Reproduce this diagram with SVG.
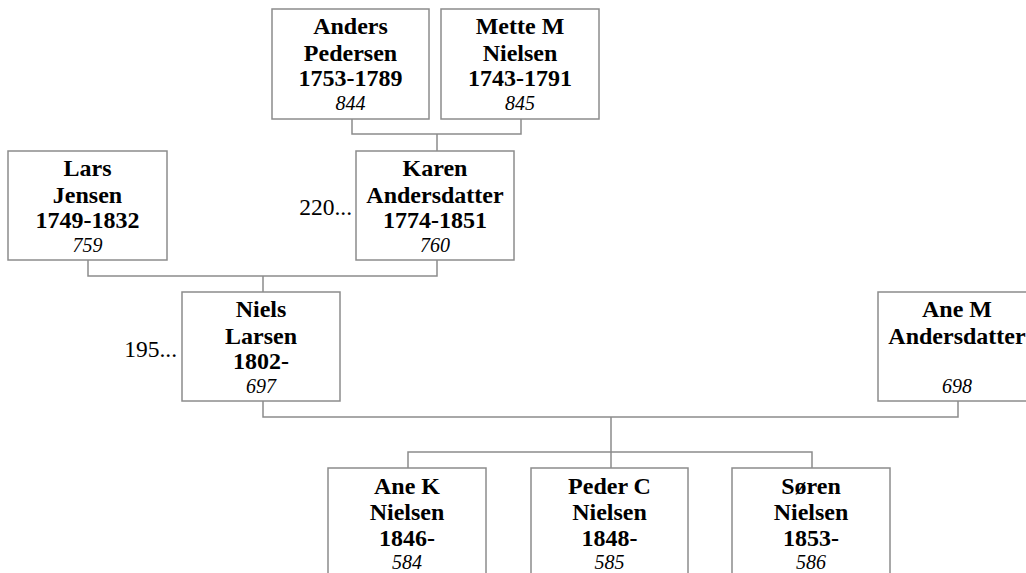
<svg xmlns="http://www.w3.org/2000/svg" width="1026" height="573" viewBox="0 0 1026 573">
<style>
.box{fill:#fff;stroke:#8c8c8c;stroke-width:1.5}
text{font-family:'Liberation Serif','Times New Roman',serif;fill:#000}
.b{font-weight:bold;font-size:24px;text-anchor:middle}
.i{font-style:italic;font-size:20px;text-anchor:middle}
.r{font-size:23.5px;text-anchor:end}
.c{fill:none;stroke:#8c8c8c;stroke-width:1.5}
</style>
<rect width="1026" height="573" fill="#fff"/>
<g id="connectors">
<path class="c" d="M352,119 V134 H521 V119 M437,134 V151"/>
<path class="c" d="M88,260 V276 H437 V260 M263,276 V292"/>
<path class="c" d="M263,401 V417 H958 V401 M611,417 V452"/>
<path class="c" d="M408,468 V452 H812 V468 M611,452 V468"/>
</g>
<g id="anders">
<rect class="box" x="272" y="9" width="157" height="110"/>
<text class="b" x="350.5" y="34">Anders</text>
<text class="b" x="350.5" y="61">Pedersen</text>
<text class="b" x="350.5" y="86">1753-1789</text>
<text class="i" x="350.5" y="110">844</text>
</g>
<g id="mette">
<rect class="box" x="441" y="9" width="158" height="110"/>
<text class="b" x="520" y="34">Mette M</text>
<text class="b" x="520" y="61">Nielsen</text>
<text class="b" x="520" y="86">1743-1791</text>
<text class="i" x="520" y="110">845</text>
</g>
<g id="lars">
<rect class="box" x="8" y="151" width="159" height="109"/>
<text class="b" x="87.5" y="176">Lars</text>
<text class="b" x="87.5" y="203">Jensen</text>
<text class="b" x="87.5" y="228">1749-1832</text>
<text class="i" x="87.5" y="252">759</text>
</g>
<g id="karen">
<text class="r" x="352" y="215">220...</text>
<rect class="box" x="356" y="151" width="158" height="109"/>
<text class="b" x="435" y="176">Karen</text>
<text class="b" x="435" y="203">Andersdatter</text>
<text class="b" x="435" y="228">1774-1851</text>
<text class="i" x="435" y="252">760</text>
</g>
<g id="niels">
<text class="r" x="177" y="357">195...</text>
<rect class="box" x="182" y="292" width="158" height="109"/>
<text class="b" x="261" y="317">Niels</text>
<text class="b" x="261" y="344">Larsen</text>
<text class="b" x="261" y="369">1802-</text>
<text class="i" x="261" y="393">697</text>
</g>
<g id="anem">
<rect class="box" x="878" y="292" width="158" height="109"/>
<text class="b" x="957" y="317">Ane M</text>
<text class="b" x="957" y="344">Andersdatter</text>
<text class="i" x="957" y="393">698</text>
</g>
<g id="anek">
<rect class="box" x="328" y="468" width="158" height="109"/>
<text class="b" x="407" y="494">Ane K</text>
<text class="b" x="407" y="520">Nielsen</text>
<text class="b" x="407" y="546">1846-</text>
<text class="i" x="407" y="569">584</text>
</g>
<g id="peder">
<rect class="box" x="531" y="468" width="157" height="109"/>
<text class="b" x="609.5" y="494">Peder C</text>
<text class="b" x="609.5" y="520">Nielsen</text>
<text class="b" x="609.5" y="546">1848-</text>
<text class="i" x="609.5" y="569">585</text>
</g>
<g id="soren">
<rect class="box" x="732" y="468" width="158" height="109"/>
<text class="b" x="811" y="494">Søren</text>
<text class="b" x="811" y="520">Nielsen</text>
<text class="b" x="811" y="546">1853-</text>
<text class="i" x="811" y="569">586</text>
</g>
</svg>
